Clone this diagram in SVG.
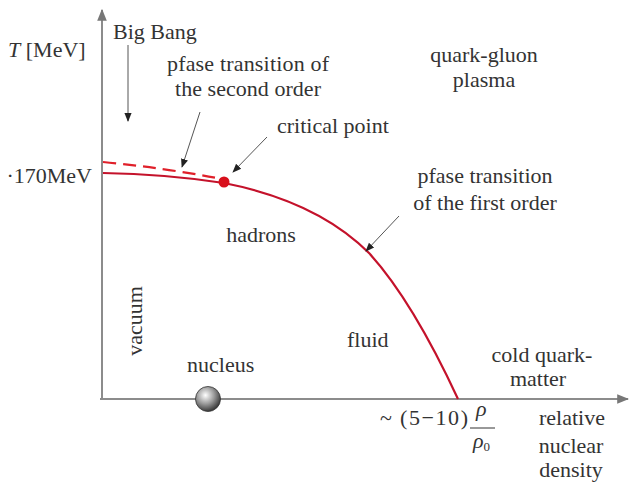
<svg xmlns="http://www.w3.org/2000/svg" width="630" height="484" viewBox="0 0 630 484" font-family="'Liberation Serif', 'DejaVu Serif', serif">
<style>
text{font-family:'Liberation Serif','DejaVu Serif',serif;font-size:22px;fill:#333}
.c{text-anchor:middle}
.ax{stroke:#8c8c8c;stroke-width:2;fill:none}
.ar{stroke:#555;stroke-width:1;fill:none}
.red{stroke:#c4122b;stroke-width:2.2;fill:none}
</style>
<defs>
<marker id="ah" viewBox="0 0 10 10" refX="9" refY="5" markerWidth="9" markerHeight="9" markerUnits="userSpaceOnUse" orient="auto">
<path d="M0,1 L10,5 L0,9 z" fill="#222"/>
</marker>
<marker id="axh" viewBox="0 0 10 10" refX="9" refY="5" markerWidth="12" markerHeight="12" markerUnits="userSpaceOnUse" orient="auto">
<path d="M0,1 L10,5 L0,9 z" fill="#777"/>
</marker>
<radialGradient id="ball" cx="0.4" cy="0.35" r="0.7">
<stop offset="0" stop-color="#ffffff"/>
<stop offset="0.5" stop-color="#9a9a9a"/>
<stop offset="1" stop-color="#2a2a2a"/>
</radialGradient>
</defs>
<rect width="630" height="484" fill="#fff"/>
<g id="axes">
<line class="ax" x1="102" y1="399" x2="102" y2="10" marker-end="url(#axh)"/>
<line class="ax" x1="100" y1="399" x2="628" y2="399" marker-end="url(#axh)"/>
</g>
<g id="curves">
<path class="red" d="M103,173 Q165,174 224,183 C290,196 338,222 369,253 C400,287 432,343 458,399"/>
<path d="M103,162 Q165,168 222,179" stroke="#e0202a" stroke-width="2.2" fill="none" stroke-dasharray="13,7"/>
</g>
<g id="critical-point"><circle cx="224" cy="182" r="5.5" fill="#d8101c"/></g>
<g id="connectors">
<line class="ar" x1="128" y1="45" x2="128" y2="121" marker-end="url(#ah)"/>
<line class="ar" x1="200" y1="112" x2="182" y2="167" marker-end="url(#ah)"/>
<line class="ar" x1="267" y1="137" x2="233" y2="172" marker-end="url(#ah)"/>
<line class="ar" x1="399" y1="216" x2="366" y2="251" marker-end="url(#ah)"/>
</g>
<g id="y-label"><text x="8" y="57"><tspan font-style="italic">T</tspan> [MeV]</text></g>
<g id="t-label"><text x="92" y="183" text-anchor="end">·170MeV</text></g>
<g id="big-bang"><text x="113" y="39">Big Bang</text></g>
<g id="second-order"><text class="c" x="248" y="71" font-size="21" textLength="162">pfase transition of</text><text class="c" x="248" y="96" font-size="21" textLength="146">the second order</text></g>
<g id="critical-label"><text x="277" y="133">critical point</text></g>
<g id="qgp"><text class="c" x="484" y="62">quark-gluon</text><text class="c" x="484" y="87">plasma</text></g>
<g id="first-order"><text class="c" x="485" y="183">pfase transition</text><text class="c" x="485" y="210">of the first order</text></g>
<g id="hadrons"><text class="c" x="261" y="242">hadrons</text></g>
<g id="vacuum"><text class="c" transform="translate(142,321) rotate(-90)">vacuum</text></g>
<g id="fluid"><text x="347" y="347">fluid</text></g>
<g id="nucleus"><text x="187" y="372">nucleus</text><circle cx="208" cy="399" r="12.5" fill="url(#ball)" stroke="#333" stroke-width="0.8"/></g>
<g id="cold"><text class="c" x="542" y="362">cold quark-</text><text class="c" x="538" y="386">matter</text></g>
<g id="density-label"><text class="c" x="572" y="425">relative</text><text class="c" x="571" y="453">nuclear</text><text class="c" x="571" y="477">density</text></g>
<g id="density-value">
<text x="380" y="425">~</text>
<text x="400" y="425" textLength="68" lengthAdjust="spacing">(5−10)</text>
<line x1="470" y1="428" x2="495" y2="428" stroke="#333" stroke-width="1"/>
<text x="476" y="416" font-style="italic">ρ</text>
<text x="473" y="448" font-style="italic">ρ<tspan font-size="13" font-style="normal" dy="3">0</tspan></text>
</g>
</svg>
